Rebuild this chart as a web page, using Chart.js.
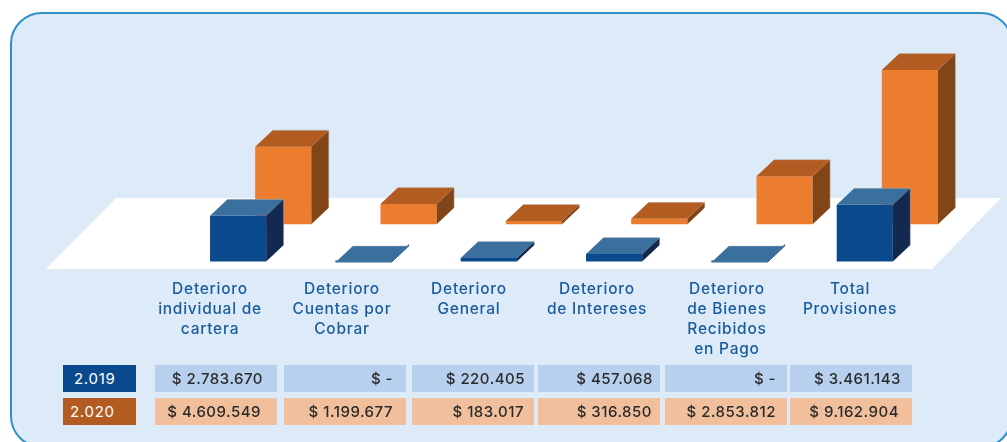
<!DOCTYPE html>
<html lang="es">
<head>
<meta charset="utf-8">
<title>Deterioro y provisiones</title>
<script src="https://cdn.jsdelivr.net/npm/chart.js@4/dist/chart.umd.min.js"></script>
<style>
  html, body { margin: 0; padding: 0; background: #fff; }
  #page { position: relative; width: 1007px; height: 442px; overflow: hidden; font-family: Inter, "Open Sans", sans-serif; }
  #panel { position: absolute; left: 10px; top: 12px; width: 999px; height: 432px; border: 2px solid #2f90c9; border-radius: 32px; background: #ddeaf7; }
  #chart { position: absolute; left: 0; top: 0; }
  .head { position: absolute; top: 279px; width: 130px; text-align: center; color: #1a5c9c; font-size: 15.5px; font-weight: 500; letter-spacing: 0.75px; line-height: 20px; white-space: nowrap; }
  .cell { position: absolute; width: 122px; height: 27px; line-height: 28px; box-sizing: border-box; text-align: right; color: #2a2a2a; font-size: 15px; font-weight: 500; letter-spacing: 0.5px; white-space: nowrap; }
  .tag { position: absolute; left: 63px; width: 73px; height: 27px; line-height: 28px; color: #fff; font-size: 15px; font-weight: 400; letter-spacing: 0.7px; }
</style>
</head>
<body>
<div id="page">
  <div id="panel"></div>
  <canvas id="chart" width="1007" height="442"></canvas>
</div>
<script>
  "use strict";

  // ======= Data =======
  const categories = [
    ["Deterioro", "individual de", "cartera"],
    ["Deterioro", "Cuentas por", "Cobrar"],
    ["Deterioro", "General"],
    ["Deterioro", "de Intereses"],
    ["Deterioro", "de Bienes", "Recibidos", "en Pago"],
    ["Total", "Provisiones"]
  ];
  const years = ["2.019", "2.020"];
  const values2019 = [2783670, 0, 220405, 457068, 0, 3461143];
  const values2020 = [4609549, 1199677, 183017, 316850, 2853812, 9162904];

  // ======= Look =======
  const DEPTH_X = 17.5;
  const DEPTH_Y = 16.5;
  const BLUE = { front: "#0a4a8c", top: "#3a6f9e", side: "#14294f" };
  const ORANGE = { front: "#ed7d2e", top: "#b35c22", side: "#824517" };
  const ROW_BG = ["#b7d0ee", "#f2bf9c"];
  const TAG_BG = ["#0a4a8c", "#b35c22"];

  // Table columns and heading centres, as laid out under the plot
  const COL_LEFT = [155, 284, 412, 538, 665, 790];
  const ROW_TOP = [365, 398];
  const HEAD_CENTER = [210, 342, 469, 597, 727, 850];
  const CELL_PAD = [[14, 13, 9, 7, 11, 11], [16, 13, 10, 8, 11, 13]];
  const TAG_PAD = [11, 7];

  // Dots as thousands separator, dash for empty values
  function money(v) {
    if (!v) return "$ -";
    return "$ " + String(v).replace(/\B(?=(\d{3})+$)/g, ".");
  }

  // White floor the bars stand on
  const floorPlugin = {
    id: "floor",
    beforeDatasetsDraw(chart) {
      const c = chart.ctx;
      c.save();
      c.fillStyle = "#fff";
      c.beginPath();
      c.moveTo(46, 269);
      c.lineTo(116, 198);
      c.lineTo(1001, 198);
      c.lineTo(932, 269);
      c.closePath();
      c.fill();
      c.restore();
    }
  };

  // Top and side faces for every bar, right after its dataset's front faces
  const boxPlugin = {
    id: "box",
    afterDatasetDraw(chart, args) {
      const c = chart.ctx;
      const look = args.index === 0 ? BLUE : ORANGE;
      args.meta.data.forEach(bar => {
        const { x, y, base, width } = bar.getProps(["x", "y", "base", "width"], true);
        const l = x - width / 2;
        const r = x + width / 2;

        c.fillStyle = look.side;
        c.beginPath();
        c.moveTo(r, y);
        c.lineTo(r + DEPTH_X, y - DEPTH_Y);
        c.lineTo(r + DEPTH_X, base - DEPTH_Y);
        c.lineTo(r, base);
        c.closePath();
        c.fill();

        c.fillStyle = look.top;
        c.beginPath();
        c.moveTo(l, y);
        c.lineTo(l + DEPTH_X, y - DEPTH_Y);
        c.lineTo(r + DEPTH_X, y - DEPTH_Y);
        c.lineTo(r, y);
        c.closePath();
        c.fill();

        // thin light edge along the back of the box
        c.strokeStyle = "rgba(190,190,190,0.6)";
        c.lineWidth = 0.8;
        c.beginPath();
        c.moveTo(l + DEPTH_X, y - DEPTH_Y);
        c.lineTo(r + DEPTH_X, y - DEPTH_Y);
        c.lineTo(r + DEPTH_X, base - DEPTH_Y);
        c.stroke();
      });
    }
  };

  new Chart(document.getElementById("chart"), {
    type: "bar",
    data: {
      labels: categories,
      datasets: [
        { label: years[0], data: values2019, yAxisID: "yFront", backgroundColor: BLUE.front },
        { label: years[1], data: values2020, yAxisID: "yBack", backgroundColor: ORANGE.front }
      ]
    },
    options: {
      responsive: false,
      animation: false,
      layout: { padding: { left: 198, right: 57, top: 40, bottom: 180 } },
      categoryPercentage: 0.72,
      barPercentage: 1.244,
      minBarLength: 2,
      borderWidth: 0,
      plugins: { legend: { display: false }, tooltip: { enabled: false } },
      scales: {
        x: { display: false, grid: { display: false } },
        // two rows in depth, each with its own baseline on the floor
        yFront: { display: false, min: -30000, max: 13500000, grid: { display: false } },
        yBack: { display: false, min: -2250000, max: 10950000, grid: { display: false } }
      }
    },
    plugins: [floorPlugin, boxPlugin]
  });

  // ======= Headings and table =======
  const page = document.getElementById("page");

  function add(cls, text, style) {
    const el = document.createElement("div");
    el.className = cls;
    el.innerHTML = text;
    Object.assign(el.style, style);
    page.appendChild(el);
  }

  categories.forEach((lines, i) => {
    add("head", lines.join("<br>"), { left: (HEAD_CENTER[i] - 65) + "px" });
  });

  [values2019, values2020].forEach((row, r) => {
    add("tag", years[r], { top: ROW_TOP[r] + "px", background: TAG_BG[r], boxSizing: "border-box", paddingLeft: TAG_PAD[r] + "px" });
    row.forEach((v, i) => {
      add("cell", money(v), {
        left: COL_LEFT[i] + "px",
        top: ROW_TOP[r] + "px",
        background: ROW_BG[r],
        paddingRight: CELL_PAD[r][i] + "px"
      });
    });
  });
</script>
</body>
</html>
